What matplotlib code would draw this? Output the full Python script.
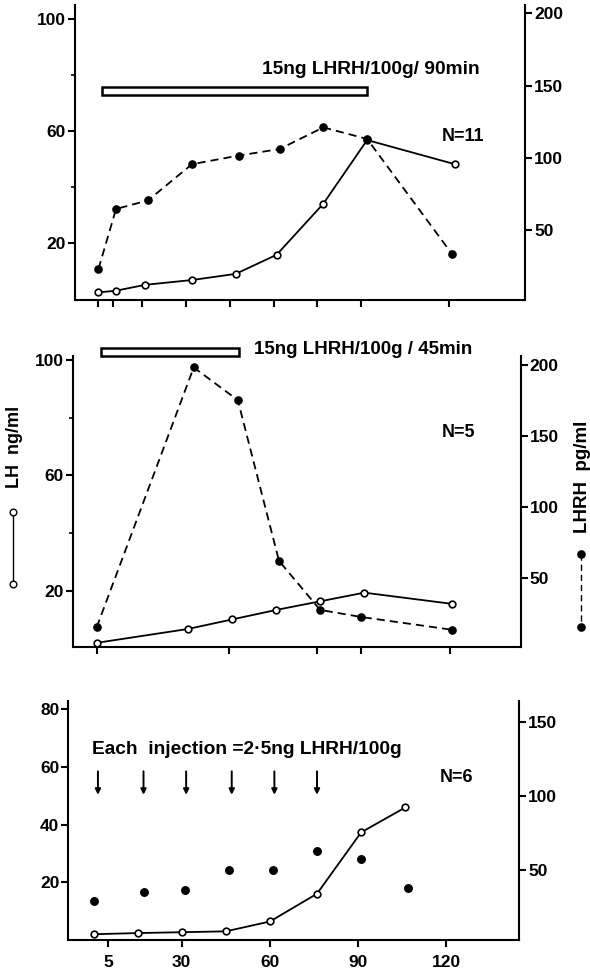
import matplotlib
matplotlib.use("Agg")
import matplotlib.pyplot as plt
from matplotlib.lines import Line2D
from matplotlib.patches import Rectangle

plt.rcParams['font.family'] = ['Liberation Sans', 'DejaVu Sans']
plt.rcParams['font.weight'] = 'bold'

# panel A: 15ng LHRH/100g over 90 min (N=11)
a_lh_t = [0, 6, 16, 32, 47, 61, 77, 92, 122]
a_lh = [2.5, 3.1, 5.2, 6.9, 9.1, 15.9, 34.1, 56.8, 48.2]
a_lhrh_t = [0, 6, 17, 32, 48, 62, 77, 92, 121]
a_lhrh = [23, 64.5, 70.5, 95.5, 101.5, 106, 121, 113, 33.5]
a_infusion = (1.3, 92)
a_xticks = [0, 5, 15, 30, 45, 60, 75, 90, 120]

# panel B: 15ng LHRH/100g over 45 min (N=5)
b_lh_t = [0, 31, 46, 61, 76, 91, 121]
b_lh = [1.9, 6.7, 10, 13.3, 16.3, 19.3, 15.4]
b_lhrh_t = [0, 33, 48, 62, 76, 90, 121]
b_lhrh = [15.3, 198, 175, 62, 27.5, 22.5, 13.5]
b_infusion = (1.4, 48.5)
b_xticks = [0, 45, 75, 90, 120]

# panel C: pulsed 2.5ng injections (N=6)
c_lh_t = [0, 15, 30, 45, 60, 76, 91, 106]
c_lh = [2.1, 2.5, 2.8, 3.1, 6.5, 16.1, 37.3, 45.9]
c_lhrh_t = [0, 17, 31, 46, 61, 76, 91, 107]
c_lhrh = [28.5, 35, 36.5, 49.5, 49.5, 63, 57, 37.5]
c_inject_t = [1.5, 17, 31.5, 47, 61.5, 76]
c_xticks = [5, 30, 60, 90, 120]

LW = 1.3
MS = 4.8
DASH = (4.5, 2.8)
TICK_FS = 12.5

fig = plt.figure(figsize=(5.9, 9.72), dpi=100)


def _axes(rect, xlim, lh_lim, lhrh_lim, lh_ticks, lh_minor, lhrh_ticks):
    ax = fig.add_axes(rect)
    ax2 = ax.twinx()
    for a in (ax, ax2):
        a.spines['top'].set_visible(False)
        for s in a.spines.values():
            s.set_linewidth(1.5)
    ax.spines['right'].set_visible(False)
    ax2.spines['left'].set_visible(False)
    ax2.spines['bottom'].set_visible(False)
    ax.set_xlim(xlim)
    ax.set_ylim(lh_lim)
    ax2.set_ylim(lhrh_lim)
    ax.set_yticks(lh_ticks)
    ax.set_yticks(lh_minor, minor=True)
    ax2.set_yticks(lhrh_ticks)
    ax.tick_params(axis='y', which='major', length=5, width=1.5,
                   labelsize=TICK_FS, pad=1.5)
    ax.tick_params(axis='y', which='minor', length=3, width=1.2)
    ax.tick_params(axis='x', length=5, width=1.5, labelsize=TICK_FS, pad=6)
    ax2.tick_params(axis='y', length=5, width=1.5, labelsize=TICK_FS,
                    pad=1.5)
    return ax, ax2


def _lh(ax, t, v):
    ax.plot(t, v, color='black', lw=LW, marker='o', ms=MS,
            mfc='white', mec='black', mew=1.2, zorder=4, clip_on=False)


def _lhrh(ax, t, v, line=True):
    if line:
        ax.plot(t, v, color='black', lw=LW, dashes=DASH, marker='o',
                ms=MS + 0.4, mfc='black', mec='black', zorder=3,
                clip_on=False)
    else:
        ax.plot(t, v, linestyle='none', marker='o', ms=MS + 0.6,
                mfc='black', mec='black', zorder=3, clip_on=False)


def _bar(ax, span, y0, y1):
    ax.add_patch(Rectangle((span[0], y0), span[1] - span[0], y1 - y0,
                           facecolor='white', edgecolor='black', lw=1.8,
                           clip_on=False, zorder=5))


# ---- top panel ----
ax, ax2 = _axes([0.1271, 0.6914, 0.7627, 0.3035], (-8.05, 146.06),
                (-0.2, 104.95), (1.5, 205.8), [20, 60, 100], [40, 80],
                [50, 100, 150, 200])
ax.set_xticks(a_xticks)
ax.set_xticklabels([])
_bar(ax, a_infusion, 72.9, 75.8)
_lh(ax, a_lh_t, a_lh)
_lhrh(ax2, a_lhrh_t, a_lhrh)
ax.text(55.9, 81.8, '15ng LHRH/100g/ 90min', fontsize=13.8,
        ha='left', va='center')
ax.text(124.9, 58.0, 'N=11', fontsize=13, ha='center', va='center')

# ---- middle panel ----
ax, ax2 = _axes([0.1232, 0.3339, 0.7593, 0.3002], (-8.16, 144.2),
                (0.3, 101.5), (1.1, 206.3), [20, 60, 100], [40, 80],
                [50, 100, 150, 200])
ax.set_xticks(b_xticks)
ax.set_xticklabels([])
_bar(ax, b_infusion, 101.4, 104.3)
_lh(ax, b_lh_t, b_lh)
_lhrh(ax2, b_lhrh_t, b_lhrh)
ax.text(53.5, 103.5, '15ng LHRH/100g / 45min', fontsize=13.5,
        ha='left', va='center')
ax.text(123, 74.9, 'N=5', fontsize=13, ha='center', va='center')

# ---- bottom panel ----
ax, ax2 = _axes([0.1158, 0.0332, 0.7644, 0.2456], (-8.57, 144.8),
                (0.2, 82.7), (2.6, 164.2), [20, 40, 60, 80], [],
                [50, 100, 150])
ax.set_xticks(c_xticks)
ax.set_xticklabels([str(t) for t in c_xticks])
_lh(ax, c_lh_t, c_lh)
_lhrh(ax2, c_lhrh_t, c_lhrh, line=False)
for t in c_inject_t:
    ax.annotate('', xy=(t, 50.3), xytext=(t, 58.4),
                arrowprops=dict(arrowstyle='-|>', lw=1.4, color='black',
                                mutation_scale=8, shrinkA=0, shrinkB=0))
ax.text(-0.6, 65.8, 'Each  injection =2·5ng LHRH/100g', fontsize=13.8,
        ha='left', va='center')
ax.text(123.5, 56.1, 'N=6', fontsize=13, ha='center', va='center')

# axis titles with their line keys
fig.text(0.0254, 0.5401, 'LH  ng/ml', rotation=90, fontsize=13,
         ha='center', va='center')
fig.text(0.9876, 0.5093, 'LHRH  pg/ml', rotation=90, fontsize=13.5,
         ha='center', va='center')
fig.add_artist(Line2D([0.0225, 0.0225], [0.4729, 0.3992],
                      transform=fig.transFigure, color='black', lw=1.0,
                      marker='o', ms=MS, mfc='white', mec='black'))
fig.add_artist(Line2D([0.9842, 0.9842], [0.4300, 0.3553],
                      transform=fig.transFigure, color='black', lw=1.0,
                      dashes=DASH, marker='o', ms=MS + 0.4, mfc='black'))

fig.savefig('out.png', dpi=100)
